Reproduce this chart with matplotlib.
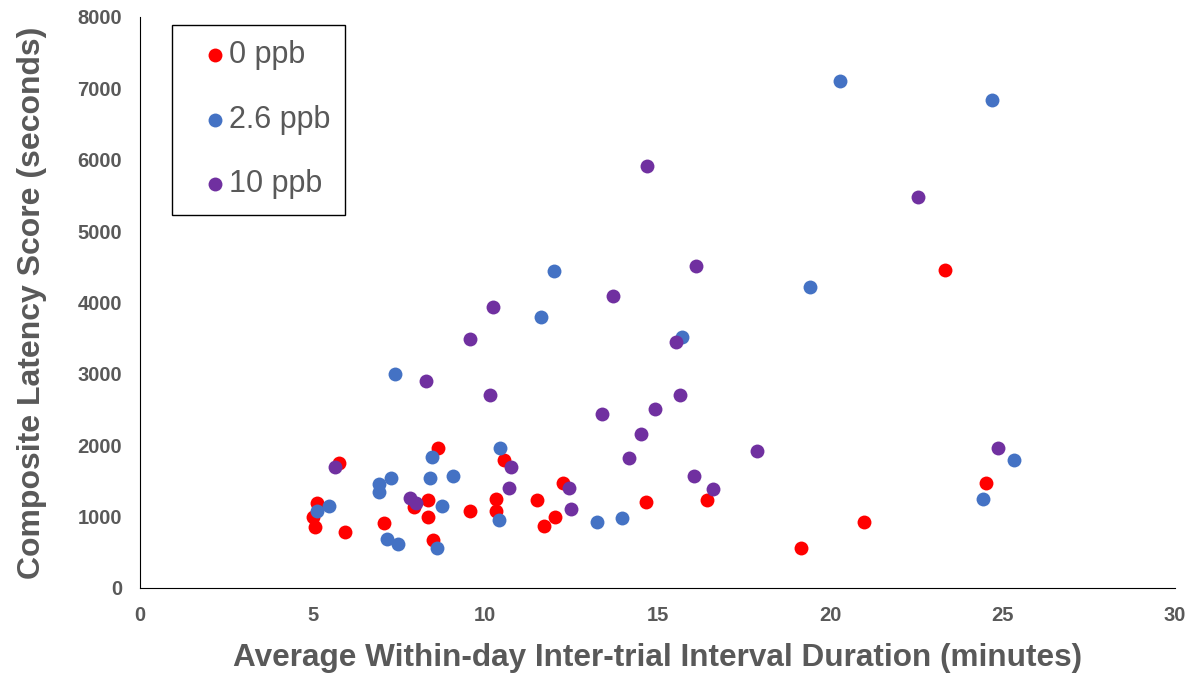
import matplotlib.pyplot as plt

plt.rcParams['font.family'] = ['Liberation Sans', 'DejaVu Sans']

# inter-trial interval (minutes) and composite latency (seconds) per group
itv_0 = [5.01, 5.07, 5.13, 5.77, 5.94, 7.07, 7.94, 8.35, 8.35, 8.49, 8.64, 9.57, 10.32,
         10.32, 10.55, 11.51, 11.71, 12.03, 12.26, 14.67, 16.43, 19.16, 20.99, 23.33, 24.52]
lat_0 = [1000, 855, 1190, 1750, 785, 910, 1135, 1235, 995, 670, 1960, 1080, 1250,
         1080, 1795, 1235, 870, 995, 1470, 1205, 1235, 560, 925, 4455, 1470]

itv_26 = [5.14, 5.49, 6.92, 6.92, 7.28, 7.38, 7.17, 7.48, 8.46, 8.40, 8.75, 8.61, 9.06,
          10.43, 10.39, 11.61, 12.0, 13.25, 13.96, 15.70, 19.42, 20.29, 24.69, 24.43, 25.34]
lat_26 = [1079, 1149, 1453, 1341, 1545, 3002, 682, 612, 1839, 1545, 1149, 556, 1569,
          1966, 953, 3793, 4441, 929, 977, 3521, 4217, 7103, 6833, 1247, 1793]

itv_10 = [5.65, 7.83, 8.0, 8.30, 9.57, 10.24, 10.14, 10.74, 10.70, 12.43, 12.48, 13.39, 13.70,
          14.17, 14.52, 14.93, 14.68, 15.54, 15.64, 16.06, 16.11, 16.61, 17.88, 22.54, 24.88]
lat_10 = [1690, 1257, 1195, 2904, 3493, 3941, 2704, 1691, 1397, 1397, 1103, 2434, 4091,
          1817, 2162, 2508, 5917, 3447, 2704, 1569, 4511, 1383, 1915, 5474, 1966]

groups = [("0 ppb", itv_0, lat_0, "#FF0000"),
          ("2.6 ppb", itv_26, lat_26, "#4472C4"),
          ("10 ppb", itv_10, lat_10, "#7030A0")]

grey = "#595959"

fig = plt.figure(figsize=(11.95, 6.76), dpi=100)
ax = fig.add_axes([0.1172, 0.1302, 0.8661, 0.8447])

for name, x, y, c in groups:
    ax.scatter(x, y, s=100, color=c, label=name, linewidths=0, zorder=3)

ax.set_xlim(0, 30)
ax.set_ylim(0, 8000)
ax.set_xticks(range(0, 31, 5))
ax.set_yticks(range(0, 8001, 1000))
ax.tick_params(length=0, labelsize=14.5, labelcolor=grey, pad=13)
for lbl in ax.get_xticklabels() + ax.get_yticklabels():
    lbl.set_fontweight("bold")

ax.spines['top'].set_visible(False)
ax.spines['right'].set_visible(False)
ax.spines['left'].set_color("black")
ax.spines['bottom'].set_color("black")

ax.set_xlabel("Average Within-day Inter-trial Interval Duration (minutes)",
              fontsize=22.7, fontweight="bold", color=grey, labelpad=13)
ax.set_ylabel("Composite Latency Score (seconds)",
              fontsize=23, fontweight="bold", color=grey, labelpad=22)

leg = ax.legend(loc="upper left", bbox_to_anchor=(0.031, 0.986), fontsize=22,
                labelspacing=1.13, markerscale=1.0, handletextpad=-0.45,
                borderpad=0.5, borderaxespad=0, handlelength=1.8,
                fancybox=False, framealpha=1, edgecolor="black")
leg.get_frame().set_linewidth(1.0)
for t in leg.get_texts():
    t.set_color(grey)

fig.savefig("out.png", dpi=100)
